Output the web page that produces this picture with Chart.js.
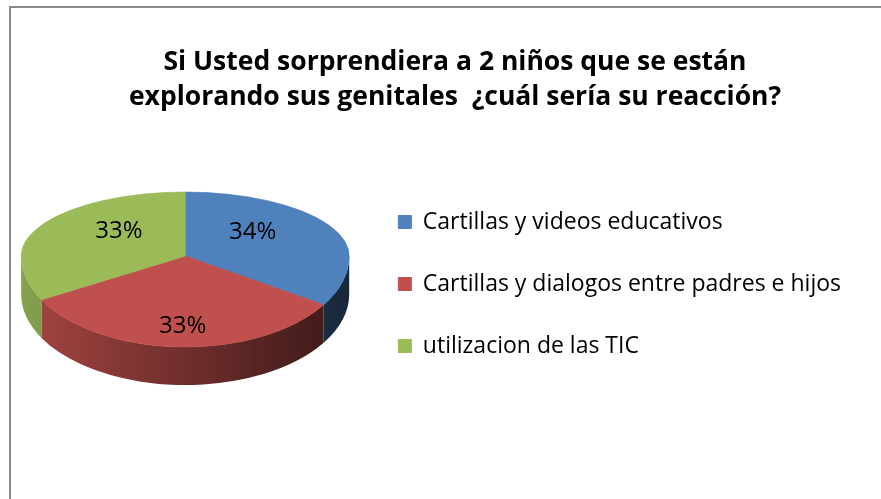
<!DOCTYPE html>
<html>
<head>
<meta charset="utf-8">
<script src="https://cdn.jsdelivr.net/npm/chart.js@4.4.1/dist/chart.umd.min.js"></script>
<style>
  html, body { margin: 0; padding: 0; background: #fff; overflow: hidden; width: 881px; height: 499px; }
  #frame { position: absolute; left: 9px; top: 6px; border-left: 2px solid #8a8a8a; border-top: 2px solid #8a8a8a; width: 900px; height: 500px; }
  canvas { display: block; }
</style>
</head>
<body>
<div id="frame"><canvas id="c" width="888" height="491"></canvas></div>
<script>
// ---- data ----
const titleLines = [
  'Si Usted sorprendiera a 2 niños que se están',
  'explorando sus genitales  ¿cuál sería su reacción?'
];
const categories = [
  'Cartillas y videos educativos',
  'Cartillas y dialogos entre padres e hijos',
  'utilizacion de las TIC'
];
const values = [34, 33, 33];
const colors = ['#4F81BD', '#C0504D', '#9BBB59'];

// ---- 3D look (style constants) ----
const TILT_TOP = 0.39;
const TILT_BOTTOM = 0.555;
const DEPTH = 0.232;
const LABEL_RX = 0.47;
const LABEL_RY = 0.77;
const LABEL_FONT = '24px "Open Sans"';

function shade(hex, f) {
  const n = parseInt(hex.slice(1), 16);
  const r = Math.round(((n >> 16) & 255) * f);
  const g = Math.round(((n >> 8) & 255) * f);
  const b = Math.round((n & 255) * f);
  return `rgb(${r},${g},${b})`;
}

const pie3d = {
  id: 'pie3d',
  beforeDatasetsDraw(chart) {
    const ctx = chart.ctx;
    const meta = chart.getDatasetMeta(0);
    const arcs = meta.data;
    if (!arcs.length) return;
    const cx = arcs[0].x, cy = arcs[0].y, r = arcs[0].outerRadius;
    const ry = r * TILT_BOTTOM, depth = r * DEPTH;
    const TAU = Math.PI * 2;

    // side walls (front half only)
    ctx.save();
    arcs.forEach((arc) => {
      const col = arc.options.backgroundColor;
      const g = ctx.createLinearGradient(cx - r, 0, cx + r, 0);
      g.addColorStop(0, shade(col, 0.86));
      g.addColorStop(1, shade(col, 0.30));
      for (let k = -1; k <= 1; k++) {
        const lo = Math.max(arc.startAngle, k * TAU);
        const hi = Math.min(arc.endAngle, k * TAU + Math.PI);
        if (hi <= lo) continue;
        ctx.beginPath();
        ctx.ellipse(cx, cy, r, ry, 0, lo, hi, false);
        ctx.ellipse(cx, cy + depth, r, ry, 0, hi, lo, true);
        ctx.closePath();
        ctx.fillStyle = g;
        ctx.fill();
      }
    });
    ctx.restore();

    // top faces: far half flatter than near half (perspective)
    const yc = Math.round(cy);
    [[yc, chart.height - yc, TILT_BOTTOM], [0, yc, TILT_TOP]].forEach(([y0, h, s]) => {
      ctx.save();
      ctx.beginPath();
      ctx.rect(0, y0, chart.width, h);
      ctx.clip();
      ctx.translate(cx, cy);
      ctx.scale(1, s);
      ctx.translate(-cx, -cy);
      arcs.forEach(a => a.draw(ctx));
      ctx.restore();
    });

    // percentage labels
    const data = chart.data.datasets[0].data;
    const total = data.reduce((a, b) => a + b, 0);
    ctx.save();
    ctx.font = LABEL_FONT;
    ctx.fillStyle = '#000';
    ctx.textAlign = 'center';
    ctx.textBaseline = 'middle';
    arcs.forEach((arc, i) => {
      const m = (arc.startAngle + arc.endAngle) / 2;
      const s = Math.sin(m) < 0 ? TILT_TOP : TILT_BOTTOM;
      const x = cx + r * LABEL_RX * Math.cos(m);
      const y = cy + r * s * LABEL_RY * Math.sin(m);
      ctx.fillText(Math.round(data[i] / total * 100) + '%', x, y);
    });
    ctx.restore();
    return false;
  }
};

Chart.defaults.font.family = '"Open Sans"';
Chart.defaults.color = '#000';

new Chart(document.getElementById('c'), {
  type: 'pie',
  data: {
    labels: categories,
    datasets: [{
      data: values,
      backgroundColor: colors,
      borderColor: colors,
      borderWidth: 1,
      radius: 164
    }]
  },
  options: {
    responsive: false,
    animation: false,
    devicePixelRatio: 1,
    layout: { padding: { left: 0, right: 0, top: 0, bottom: 99 } },
    plugins: {
      title: {
        display: true,
        text: titleLines,
        color: '#000',
        font: { family: '"Open Sans"', size: 26.5, weight: 'bold', lineHeight: '35px' },
        padding: { top: 36.5, bottom: -2.5 }
      },
      subtitle: {
        display: true,
        position: 'right',
        text: '',
        font: { size: 10, lineHeight: '10px' },
        padding: { top: 38, bottom: 0 }
      },
      legend: {
        position: 'right',
        align: 'center',
        fullSize: false,
        maxWidth: 700,
        title: { display: true, text: ' ', font: { size: 10, lineHeight: '10px' }, padding: { top: 46, bottom: 0 } },
        labels: {
          boxWidth: 13,
          boxHeight: 13,
          padding: 39,
          color: '#000',
          font: { family: '"Open Sans"', size: 23 }
        }
      },
      tooltip: { enabled: false }
    }
  },
  plugins: [pie3d]
});
</script>
</body>
</html>
